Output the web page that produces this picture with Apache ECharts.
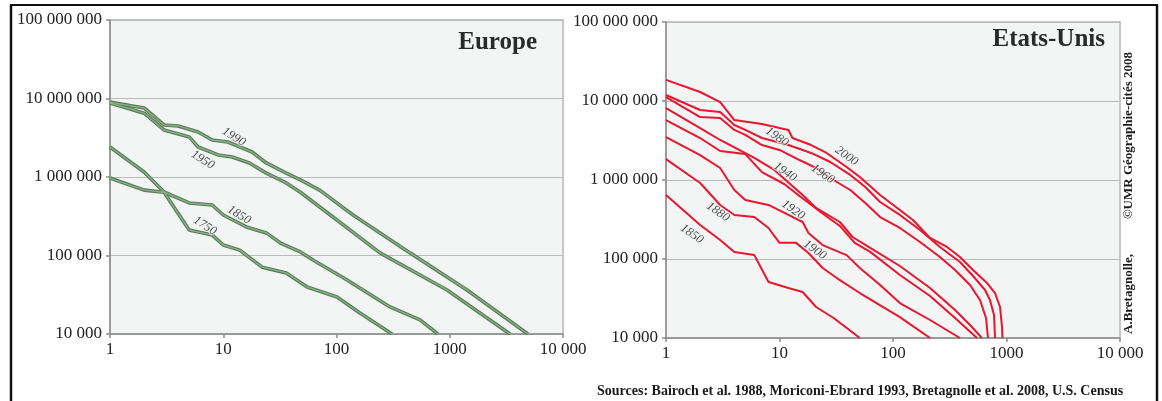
<!DOCTYPE html>
<html>
<head>
<meta charset="utf-8">
<script src="https://cdn.jsdelivr.net/npm/echarts@6/dist/echarts.min.js"></script>
<style>
html,body{margin:0;padding:0;background:#fff;}
#c{width:1162px;height:401px;}
</style>
</head>
<body>
<div id="c"></div>
<script>
// ---- Data (rank, population) ----
const xTickLabels = ['1', '10', '100', '1000', '10 000'];            // 10^0 .. 10^4
const yTickLabels = ['10 000', '100 000', '1 000 000', '10 000 000', '100 000 000']; // 10^4 .. 10^8

const euroYears = ['1990', '1950', '1850', '1750'];
const euro1990 = [[1,9.0e6],[2,7.57e6],[3,4.6e6],[4,4.47e6],[6,3.74e6],[8,2.96e6],[11,2.79e6],[18,2.08e6],[24,1.51e6],[36,1.12e6],[48,9.2e5],[71,6.8e5],[140,3.28e5],[446,1.08e5],[1420,3.64e4],[4900,1.0e4]];
const euro1950 = [[1,8.77e6],[2,6.5e6],[3,3.97e6],[5,3.24e6],[6,2.41e6],[9,1.91e6],[12,1.80e6],[17,1.51e6],[24,1.12e6],[36,8.4e5],[48,6.4e5],[93,3.09e5],[242,1.08e5],[946,3.64e4],[3400,1.0e4]];
const euro1850 = [[1,2.41e6],[2,1.16e6],[3,6.44e5],[5,4.67e5],[8,4.4e5],[10,3.28e5],[16,2.31e5],[24,1.94e5],[32,1.44e5],[48,1.11e5],[62,8.77e4],[124,4.87e4],[297,2.21e4],[546,1.51e4],[787,1.0e4]];
const euro1750 = [[1,9.7e5],[2,6.8e5],[3,6.4e5],[5,2.11e5],[8,1.82e5],[10,1.36e5],[14,1.17e5],[22,7.1e4],[36,6.0e4],[55,3.97e4],[101,2.96e4],[161,1.85e4],[309,1.0e4]];

const usYears = ['2000', '1980', '1960', '1940', '1920', '1900', '1880', '1850'];
const us2000 = [[1,1.85e7],[2,1.30e7],[3,9.7e6],[4,5.74e6],[7,5.12e6],[10,4.55e6],[12,4.3e6],[13,3.4e6],[19,2.77e6],[26,2.2e6],[39,1.46e6],[51,1.09e6],[77,6.46e5],[115,4.17e5],[150,3.12e5],[212,1.85e5],[299,1.42e5],[389,1.06e5],[507,7.26e4],[673,4.97e4],[792,3.71e4],[877,2.47e4],[913,1.38e4],[920,1.0e4]];
const us1980 = [[1,1.19e7],[2,7.69e6],[3,7.26e6],[4,4.97e6],[5,4.3e6],[7,3.4e6],[12,2.77e6],[19,2.2e6],[28,1.69e6],[42,1.16e6],[57,8.15e5],[77,5.27e5],[115,3.61e5],[173,2.33e5],[259,1.42e5],[389,9.16e4],[507,6.09e4],[647,4.05e4],[715,3.03e4],[776,1.95e4],[792,1.0e4]];
const us1960 = [[1,1.12e7],[2,6.27e6],[3,6.09e6],[4,4.3e6],[5,3.72e6],[7,2.77e6],[10,2.4e6],[15,1.79e6],[21,1.42e6],[28,1.06e6],[42,7.47e5],[57,5.12e5],[77,3.4e5],[115,2.47e5],[173,1.64e5],[259,1.06e5],[352,7.26e4],[477,4.69e4],[584,3.03e4],[660,1.79e4],[687,1.0e4]];
const us1940 = [[1,8.15e6],[2,4.55e6],[3,3.21e6],[6,1.9e6],[9,1.34e6],[13,8.39e5],[16,6.46e5],[21,4.43e5],[34,2.94e5],[44,1.9e5],[63,1.38e5],[115,8.15e4],[212,4.3e4],[352,2.26e4],[477,1.46e4],[608,1.0e4]];
const us1920 = [[1,5.74e6],[2,3.4e6],[3,2.33e6],[5,2.13e6],[7,1.26e6],[11,8.9e5],[15,6.27e5],[23,3.94e5],[34,2.62e5],[46,1.6e5],[63,1.23e5],[115,6.27e4],[212,3.4e4],[352,1.79e4],[550,1.0e4]];
const us1900 = [[1,3.5e6],[2,2.07e6],[3,1.42e6],[4,7.47e5],[5,5.58e5],[8,4.83e5],[12,3.61e5],[16,2.94e5],[18,2.13e5],[24,1.5e5],[39,1.12e5],[51,7.69e4],[77,4.69e4],[115,2.77e4],[212,1.69e4],[389,1.0e4]];
const us1880 = [[1,1.84e6],[2,9.16e5],[3,4.83e5],[4,3.61e5],[6,3.4e5],[8,2.47e5],[10,1.6e5],[14,1.6e5],[18,1.19e5],[24,7.69e4],[32,5.74e4],[51,3.71e4],[115,1.84e4],[212,1.0e4]];
const us1850 = [[1,6.46e5],[2,2.69e5],[3,1.74e5],[4,1.23e5],[6,1.12e5],[8,5.12e4],[12,4.3e4],[16,3.82e4],[21,2.47e4],[30,1.79e4],[51,1.0e4]];

// label anchor points (rank, population) for year labels
const euroLabelAt = [[12.4,3.24e6],[6.6,1.65e6],[13.8,3.28e5],[6.9,2.38e5]];
const usLabelAt = [[39,2.01e6],[9.5,3.5e6],[24,1.19e6],[11.2,1.26e6],[13.2,4.17e5],[20.5,1.3e5],[2.87,3.94e5],[1.69,2.07e5]];

// ---- Chart ----
const euroSeriesData = [euro1990, euro1950, euro1850, euro1750];
const usSeriesData = [us2000, us1980, us1960, us1940, us1920, us1900, us1880, us1850];

const SERIF = 'Liberation Serif, Times New Roman, serif';
const chart = echarts.init(document.getElementById('c'), null, {renderer: 'canvas'});

function xAxis(g) {
  return {
    type: 'log', logBase: 10, min: 1, max: 10000, gridIndex: g,
    axisLine: {show: true, lineStyle: {color: '#8c8c8c', width: 1.5}},
    axisTick: {show: true, length: 4, lineStyle: {color: '#8c8c8c', width: 1.5}},
    axisLabel: {
      fontFamily: SERIF, fontSize: 17, color: '#222', margin: 7,
      formatter: v => xTickLabels[Math.round(Math.log10(v))]
    },
    splitLine: {show: false}, minorTick: {show: false}
  };
}
function yAxis(g) {
  return {
    type: 'log', logBase: 10, min: 1e4, max: 1e8, gridIndex: g,
    axisLine: {show: true, lineStyle: {color: '#8c8c8c', width: 1.5}},
    axisTick: {show: true, length: 4, lineStyle: {color: '#8c8c8c', width: 1.5}},
    axisLabel: {
      fontFamily: SERIF, fontSize: 17, color: '#222', margin: 8,
      formatter: v => yTickLabels[Math.round(Math.log10(v)) - 4]
    },
    splitLine: {show: true, lineStyle: {color: '#b9bbbb', width: 1.2}},
    minorTick: {show: false}
  };
}

const series = [];
euroSeriesData.forEach((d, i) => {
  series.push({
    name: euroYears[i] + '-edge', type: 'line', xAxisIndex: 0, yAxisIndex: 0, data: d,
    showSymbol: false, silent: true, lineStyle: {color: '#5b7a5b', width: 3.6}, z: 2
  });
  series.push({
    name: euroYears[i], type: 'line', xAxisIndex: 0, yAxisIndex: 0, data: d,
    showSymbol: false, silent: true, lineStyle: {color: '#84b284', width: 1.4}, z: 3
  });
});
usSeriesData.forEach((d, i) => {
  series.push({
    name: usYears[i], type: 'line', xAxisIndex: 1, yAxisIndex: 1, data: d,
    showSymbol: false, silent: true, lineStyle: {color: '#e8162e', width: 2}, z: 3
  });
});
const labelStyle = {
  show: true, position: 'inside', formatter: p => p.name,
  fontFamily: SERIF, fontStyle: 'italic', fontSize: 12.5, color: '#222',
  textBorderColor: '#f3f4f4', textBorderWidth: 2
};
series.push({
  type: 'scatter', xAxisIndex: 0, yAxisIndex: 0, symbolSize: 1, silent: true,
  itemStyle: {color: 'rgba(0,0,0,0)'}, z: 5,
  label: Object.assign({}, labelStyle, {rotate: -32}),
  data: euroLabelAt.map((p, i) => ({name: euroYears[i], value: p}))
});
series.push({
  type: 'scatter', xAxisIndex: 1, yAxisIndex: 1, symbolSize: 1, silent: true,
  itemStyle: {color: 'rgba(0,0,0,0)'}, z: 5,
  label: Object.assign({}, labelStyle, {rotate: -35}),
  data: usLabelAt.map((p, i) => ({name: usYears[i], value: p}))
});

chart.setOption({
  animation: false,
  backgroundColor: '#ffffff',
  grid: [
    {left: 110, top: 20, width: 453, height: 314, show: true, backgroundColor: '#f3f4f4', borderColor: '#c6c8c8', borderWidth: 2},
    {left: 666, top: 22, width: 454, height: 316, show: true, backgroundColor: '#f3f4f4', borderColor: '#c6c8c8', borderWidth: 2}
  ],
  xAxis: [xAxis(0), xAxis(1)],
  yAxis: [yAxis(0), yAxis(1)],
  series: series,
  graphic: [
    {type: 'line', shape: {x1: 11, y1: 5, x2: 11, y2: 401}, style: {stroke: '#111', lineWidth: 2.5}},
    {type: 'line', shape: {x1: 10, y1: 5, x2: 1158, y2: 5}, style: {stroke: '#111', lineWidth: 2}},
    {type: 'line', shape: {x1: 1157, y1: 5, x2: 1157, y2: 401}, style: {stroke: '#111', lineWidth: 2.5}},
    {type: 'text', x: 537, y: 43, style: {text: 'Europe', font: 'bold 25px ' + SERIF, fill: '#2a2a2a', align: 'right', verticalAlign: 'middle'}, z: 10},
    {type: 'text', x: 1105, y: 40, style: {text: 'Etats-Unis', font: 'bold 25px ' + SERIF, fill: '#2a2a2a', align: 'right', verticalAlign: 'middle'}, z: 10},
    {type: 'text', x: 597, y: 391, style: {text: 'Sources: Bairoch et al. 1988, Moriconi-Ebrard 1993, Bretagnolle et al. 2008, U.S. Census', font: 'bold 14px ' + SERIF, fill: '#1a1a1a', align: 'left', verticalAlign: 'middle'}, z: 10},
    {type: 'text', x: 1129, y: 334, rotation: Math.PI / 2, style: {text: 'A.Bretagnolle,', font: 'bold 13px ' + SERIF, fill: '#1a1a1a', align: 'left', verticalAlign: 'middle'}, z: 10},
    {type: 'text', x: 1129, y: 52, rotation: Math.PI / 2, style: {text: '\u00A9UMR G\u00E9ographie-cit\u00E9s 2008', font: 'bold 13px ' + SERIF, fill: '#1a1a1a', align: 'right', verticalAlign: 'middle'}, z: 10}
  ]
});
</script>
</body>
</html>
